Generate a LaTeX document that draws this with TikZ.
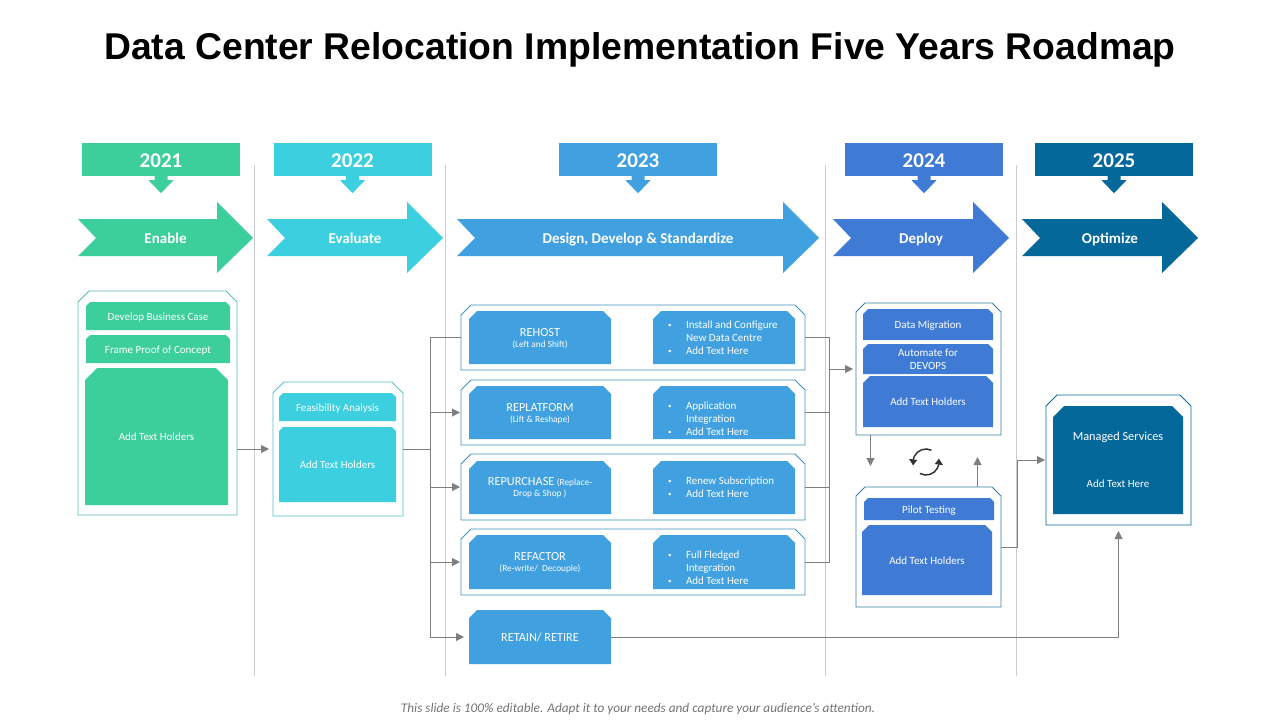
\documentclass[tikz,border=0pt]{standalone}
\usepackage{fontspec}
\usepackage{xcolor}
\usetikzlibrary{arrows.meta}
\usetikzlibrary{bending}
\setmainfont{Carlito}
\newfontfamily\titlefont{Liberation Sans}
\definecolor{cgreen}{HTML}{3DCF9B}
\definecolor{ccyan}{HTML}{3BCFDF}
\definecolor{cblue}{HTML}{40A0E0}
\definecolor{croyal}{HTML}{3F7BD4}
\definecolor{cdark}{HTML}{05689A}
\definecolor{cline}{HTML}{7F7F7F}
\definecolor{edgegreen}{HTML}{55BDB3}
\definecolor{edgecyan}{HTML}{55BFC8}
\definecolor{edgeblue}{HTML}{3F8FBF}
\definecolor{edgeroyal}{HTML}{357FA5}
\newcommand{\bul}{\makebox[18pt][l]{\fontsize{7}{7}\selectfont\raisebox{1pt}{\textbullet}}}
\newcommand{\nobul}{\hspace*{18pt}}
\newcommand{\subt}[1]{{\fontsize{9.3}{10}\selectfont #1}}
\newcommand{\caph}[1]{{\fontsize{12.3}{13}\selectfont #1}}
\newcommand{\lowered}[2]{\raisebox{-#1pt}[0pt][0pt]{#2}}
\newcommand{\midlines}[2]{\lowered{#1}{\parbox{140pt}{\centering #2}}}
\newdimen\snipxa
\newdimen\snipya
\newdimen\snipxb
\newdimen\snipyb
\def\snipcut{5pt}
\makeatletter
\pgfdeclareshape{snipped}{
	\inheritsavedanchors[from=rectangle]
	\inheritanchorborder[from=rectangle]
	\inheritanchor[from=rectangle]{center}
	\inheritanchor[from=rectangle]{north}
	\inheritanchor[from=rectangle]{south}
	\inheritanchor[from=rectangle]{east}
	\inheritanchor[from=rectangle]{west}
	\backgroundpath{
		\southwest \snipxa=\pgf@x \snipya=\pgf@y
		\northeast \snipxb=\pgf@x \snipyb=\pgf@y
		\pgfpathmoveto{\pgfqpoint{\snipxa}{\snipya}}
		\pgfpathlineto{\pgfqpoint{\snipxb}{\snipya}}
		\pgfpathlineto{\pgfqpoint{\snipxb}{\dimexpr\snipyb-\snipcut\relax}}
		\pgfpathlineto{\pgfqpoint{\dimexpr\snipxb-\snipcut\relax}{\snipyb}}
		\pgfpathlineto{\pgfqpoint{\dimexpr\snipxa+\snipcut\relax}{\snipyb}}
		\pgfpathlineto{\pgfqpoint{\snipxa}{\dimexpr\snipyb-\snipcut\relax}}
		\pgfpathclose
	}
}
\makeatother
\tikzset{
	snip cut/.code={\def\snipcut{#1pt}},
	snip/.style n args={3}{shape=snipped,snip cut=#3,
		inner sep=0pt,outer sep=0pt,minimum width=#1pt,minimum height=#2pt,align=center,text=white,
		font=\fontsize{11}{13}\selectfont},
	oneline/.style={text height=11.5pt,text depth=3pt},
	frame/.style={draw=#1,fill=white,line width=0.8pt},
	flow/.style={draw=cline,line width=1pt,-{Triangle[length=8pt,width=8pt]}},
	link/.style={draw=cline,line width=1pt},
	syncarc/.style={draw=black!80,line width=1.5pt,-{Triangle[length=6pt,width=8pt,bend]}},
}
\begin{document}
\begin{tikzpicture}[x=1pt,y=-1pt]
	\useasboundingbox (0,0) rectangle (1280,720);
	\node[font=\titlefont\bfseries\fontsize{37.3}{40}\selectfont] (title) at (640,50) {Data Center Relocation Implementation Five Years Roadmap};
	\foreach \x in {254.5,445,825.5,1016} {
		\draw[black!20,line width=0.7pt] (\x,165) -- (\x,676);
	}
	% years
	\foreach \yr/\cx/\col in {2021/161/cgreen,2022/352.5/ccyan,2023/638/cblue,2024/924/croyal,2025/1114/cdark} {
		\node[fill=\col,text=white,minimum width=158pt,minimum height=33pt,inner sep=0pt,text height=16pt,text depth=0pt,font=\bfseries\fontsize{21}{24}\selectfont] (y\yr) at (\cx,159.5) {\yr};
		\fill[\col] (y\yr.south) ++(-6.5,-1) -- ++(0,5) -- ++(-6,0) -- ++(12.5,13) -- ++(12.5,-13) -- ++(-6,0) -- ++(0,-5) -- cycle;
	}
	% phases
	\foreach \nm/\lab/\l/\r/\col in {Enable/Enable/78/253/cgreen,Evaluate/Evaluate/267/443/ccyan,Design/{Design, Develop \& Standardize}/457/819/cblue,Deploy/Deploy/833/1009/croyal,Optimize/Optimize/1022/1198/cdark} {
		\fill[\col] (\l,219) -- (\r-36,219) -- (\r-36,202) -- (\r,238) -- (\r-36,273) -- (\r-36,256) -- (\l,256) -- (\l+18,238) -- cycle;
		\node[text=white,text height=11pt,text depth=0pt,font=\bfseries\fontsize{15}{18}\selectfont] (a\nm) at ({(\l+\r)/2},238) {\lab};
	}
	% 2021
	\node[snip={159}{224}{11},frame=edgegreen] (fEnable) at (157.5,403) {};
	\node[snip={144}{28}{4},oneline,fill=cgreen] (bCase) at (158,316) {Develop Business Case};
	\node[snip={144}{28}{4},oneline,fill=cgreen] (bProof) at (158,349) {Frame Proof of Concept};
	\node[snip={143}{137}{12},oneline,fill=cgreen] (bEnable) at (156.5,436.5) {Add Text Holders};
	% 2022
	\node[snip={130}{134}{11},frame=edgecyan] (fEvaluate) at (338,449) {};
	\node[snip={117}{28}{4},oneline,fill=ccyan] (bFeas) at (337.5,407) {Feasibility Analysis};
	\node[snip={117}{75}{4},oneline,fill=ccyan] (bEvaluate) at (337.5,464.5) {Add Text Holders};
	% 2023
	\foreach \nm/\yc/\rowh in {Rehost/337.5/65,Replatform/412.5/65,Repurchase/487/66,Refactor/562/66} {
		\node[snip={344}{\rowh}{10},frame=edgeblue] (f\nm) at (633,\yc) {};
	}
	\node[snip={142}{53}{8},fill=cblue] (lRehost) at (540,337.5) {\midlines{4.25}{\caph{REHOST}\\[-2pt]\subt{(Left and Shift)}}};
	\node[snip={142}{53}{8},fill=cblue] (rRehost) at (724,337.5) {\parbox{112pt}{\bul Install and Configure\\\nobul New Data Centre\\\bul Add Text Here}};
	\node[snip={142}{53}{8},fill=cblue] (lReplatform) at (540,412.5) {\midlines{3.75}{\caph{REPLATFORM}\\[-2pt]\subt{(Lift \& Reshape)}}};
	\node[snip={142}{53}{8},fill=cblue] (rReplatform) at (724,412.5) {\lowered{9.25}{\parbox{112pt}{\bul Application\\\nobul Integration\\\bul Add Text Here}}};
	\node[snip={142}{53}{8},fill=cblue] (lRepurchase) at (540,487.5) {\midlines{3.25}{\caph{REPURCHASE} \subt{(Replace-}\\[-2pt]\subt{Drop \& Shop )}}};
	\node[snip={142}{53}{8},fill=cblue] (rRepurchase) at (724,487.5) {\parbox{112pt}{\bul Renew Subscription\\\bul Add Text Here}};
	\node[snip={142}{54}{8},fill=cblue] (lRefactor) at (540,562) {\midlines{3.75}{\caph{REFACTOR}\\[-2pt]\subt{(Re-write/ \ Decouple)}}};
	\node[snip={142}{54}{8},fill=cblue] (rRefactor) at (724,562) {\lowered{8.75}{\parbox{112pt}{\bul Full Fledged\\\nobul Integration\\\bul Add Text Here}}};
	\node[snip={142}{54}{8},oneline,fill=cblue] (bRetain) at (540,637) {\caph{RETAIN/ RETIRE}};
	% 2024
	\node[snip={145}{132}{9},frame=edgeroyal] (fDeploy) at (928.5,369) {};
	\node[snip={130}{31}{5},oneline,fill=croyal] (bData) at (928,324.5) {Data Migration};
	\node[snip={130}{30}{5},fill=croyal] (bAuto) at (928,359) {Automate for\\DEVOPS};
	\node[snip={130}{51}{7},oneline,fill=croyal] (bDeploy) at (928,401.5) {Add Text Holders};
	\node[snip={145}{120}{9},frame=edgeroyal] (fPilot) at (928.5,547) {};
	\node[snip={130}{22}{4},oneline,fill=croyal] (bPilot) at (929,509) {Pilot Testing};
	\node[snip={130}{70}{7},oneline,fill=croyal] (bTest) at (927,560) {Add Text Holders};
	% 2025
	\node[snip={145}{130}{11},frame=cdark] (fManaged) at (1118.5,460) {};
	\node[snip={130}{108}{11},fill=cdark] (bManaged) at (1118,460) {\caph{Managed Services}\\[34pt]Add Text Here};
	% connectors
	\coordinate (trunkA) at (430.5,449);
	\coordinate (trunkB) at (829.5,369);
	\coordinate (dn) at (870.5,466);
	\coordinate (up) at (977.5,457);
	\draw[flow] (fEnable.east |- fEvaluate.west) -- ([xshift=-4pt]fEvaluate.west);
	\draw[link] (fEvaluate.east) -- (trunkA);
	\draw[flow] (fRehost.west) -| (trunkA) |- ([xshift=-5pt]bRetain.west);
	\foreach \nm in {Replatform,Repurchase,Refactor} {
		\draw[flow] (trunkA |- f\nm.west) -- ([xshift=-1pt]f\nm.west);
	}
	\draw[link] (fRehost.east) -| (trunkB) |- (fRefactor.east);
	\foreach \nm in {Replatform,Repurchase} {
		\draw[link] (f\nm.east) -- (trunkB |- f\nm.east);
	}
	\draw[flow] (trunkB) -- ([xshift=-3pt]fDeploy.west);
	\draw[flow] (fDeploy.south -| dn) -- (dn);
	\draw[flow] (fPilot.north -| up) -- (up);
	\draw[flow] (fPilot.east) -- ++(16.5,0) |- ([xshift=-1pt]fManaged.west);
	\draw[flow] (bRetain.east) -| ([yshift=-6pt]fManaged.south);
	% sync icon
	\coordinate (sync) at (926,462);
	\draw[syncarc] (sync) ++(-65:13) arc (-65:-195:13);
	\draw[syncarc] (sync) ++(118:13) arc (118:-15:13);
	\node[text=black!55,font=\itshape\fontsize{13.25}{15}\selectfont] (foot) at (638,709) {This slide is 100\% editable. Adapt it to your needs and capture your audience's attention.};
\end{tikzpicture}
\end{document}
